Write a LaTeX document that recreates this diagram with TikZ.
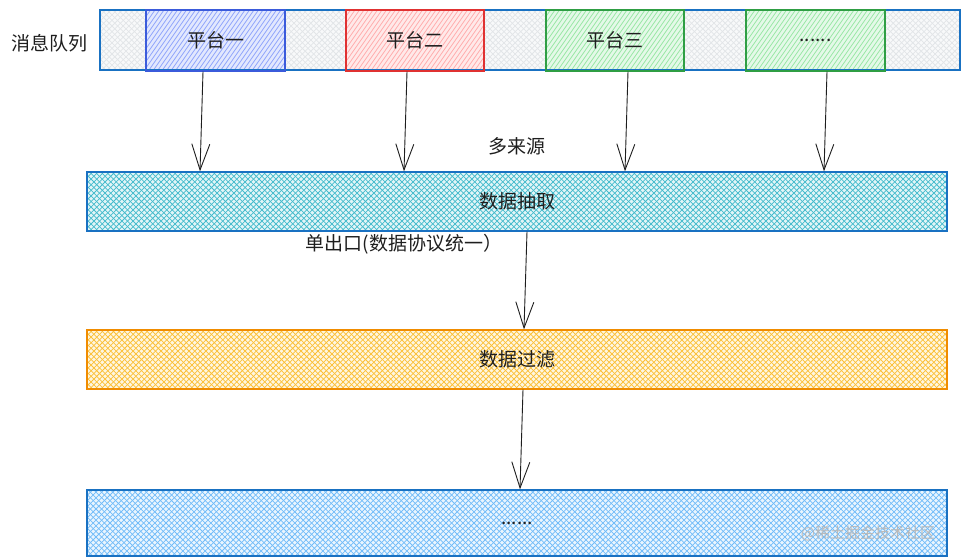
\documentclass[tikz,border=0pt]{standalone}
\usepackage{fontspec}
\setmainfont{Noto Sans CJK SC}
\usetikzlibrary{arrows.meta}
\definecolor{qblue}{HTML}{1971C2}
\definecolor{qgray}{HTML}{ADB5BD}
\definecolor{indig}{HTML}{3B5BDB}
\definecolor{indigf}{HTML}{5C7CFA}
\definecolor{redb}{HTML}{E03131}
\definecolor{redf}{HTML}{FF8787}
\definecolor{greenb}{HTML}{2F9E44}
\definecolor{greenf}{HTML}{69DB7C}
\definecolor{cyanf}{HTML}{15AABF}
\definecolor{orangeb}{HTML}{F08C00}
\definecolor{orangef}{HTML}{FAB005}
\definecolor{bluef}{HTML}{4DABF7}
\definecolor{ink}{HTML}{1E1E1E}
\tikzset{
  txt/.style={font=\fontsize{19}{22}\selectfont, text=ink},
  bar/.style={draw=#1, line width=1.3pt, inner sep=0pt},
  arr/.style={draw=ink, line width=0.9pt, -{Straight Barb[length=26pt,width=18pt,line width=0.9pt]}},
  hline/.style={draw=#1, line width=0.75pt},
}
% cross hatch: x1 y1 x2 y2 colour base-percent line-percent
\newcommand\crossbox[7]{%
  \fill[#5!#6] (#1,#2) rectangle (#3,#4);
  \begin{scope}
    \clip (#1,#2) rectangle (#3,#4);
    \pgfmathsetmacro\hh{#4-#2}
    \pgfmathsetmacro\st{#1-\hh}
    \pgfmathsetmacro\nx{\st+5.6}
    \foreach \i in {\st,\nx,...,#3} {
      \draw[hline=#5!#7] (\i,#4) -- ({\i+\hh},#2);
      \draw[hline=#5!#7] (\i,#2) -- ({\i+\hh},#4);
    }
  \end{scope}}
% single hatch (steeper)
\newcommand\singlebox[7]{%
  \fill[#5!#6] (#1,#2) rectangle (#3,#4);
  \begin{scope}
    \clip (#1,#2) rectangle (#3,#4);
    \pgfmathsetmacro\hh{#4-#2}
    \pgfmathsetmacro\dd{0.7*\hh}
    \pgfmathsetmacro\st{#1-\dd}
    \pgfmathsetmacro\nx{\st+4.5}
    \foreach \i in {\st,\nx,...,#3} {
      \draw[hline=#5!#7] (\i,#4) -- ({\i+\dd},#2);
    }
  \end{scope}}
\begin{document}
\begin{tikzpicture}[x=1pt,y=-1pt]
\useasboundingbox[fill=white] (0,0) rectangle (970,560);
% fills
\crossbox{100}{10}{960}{70}{qgray}{8}{35}
\singlebox{146}{10}{285}{71}{indigf}{18}{70}
\singlebox{346}{10}{484}{71}{redf}{18}{70}
\singlebox{546}{10}{684}{71}{greenf}{18}{70}
\singlebox{746}{10}{885}{71}{greenf}{18}{70}
\crossbox{87}{172}{947}{231}{cyanf}{12}{80}
\crossbox{87}{330}{947}{389}{orangef}{12}{80}
\crossbox{87}{490}{947}{556}{bluef}{12}{80}
% message queue bar
\node[bar=qblue, minimum width=860pt, minimum height=60pt] (q) at (530,40) {};
\node[bar=indig, minimum width=139pt, minimum height=61pt, txt] (p1) at (215.5,40.5) {平台一};
\node[bar=redb, minimum width=138pt, minimum height=61pt, txt] (p2) at (415,40.5) {平台二};
\node[bar=greenb, minimum width=138pt, minimum height=61pt, txt] (p3) at (615,40.5) {平台三};
\node[bar=greenb, minimum width=139pt, minimum height=61pt, txt] (p4) at (815.5,40.5) {......};
\node[txt] (ql) at (50,43) {消息队列};
% layers
\node[bar=qblue, minimum width=860pt, minimum height=59pt, txt] (ex) at (517,201.5) {数据抽取};
\node[bar=orangeb, minimum width=860pt, minimum height=59pt, txt] (fi) at (517,359.5) {数据过滤};
\node[bar=qblue, minimum width=860pt, minimum height=66pt, txt] (bt) at (517,523) {......};
% labels
\node[txt] (src) at (517,146) {多来源};
\node[txt] (out) at (404,244) {单出口(数据协议统一）};
\node[font=\fontsize{15}{18}\selectfont, text=gray!55] (wm) at (868,533) {@稀土掘金技术社区};
% arrows
\draw[arr] ([xshift=-12.5pt]p1.south) -- ([xshift=-15.5pt]p1.south |- ex.north);
\draw[arr] ([xshift=-8pt]p2.south) -- ([xshift=-11pt]p2.south |- ex.north);
\draw[arr] ([xshift=13pt]p3.south) -- ([xshift=10pt]p3.south |- ex.north);
\draw[arr] ([xshift=11.5pt]p4.south) -- ([xshift=8.5pt]p4.south |- ex.north);
\draw[arr] ([xshift=10pt]ex.south) -- ([xshift=7pt]fi.north);
\draw[arr] ([xshift=6pt]fi.south) -- ([xshift=3pt]bt.north);
\end{tikzpicture}
\end{document}
